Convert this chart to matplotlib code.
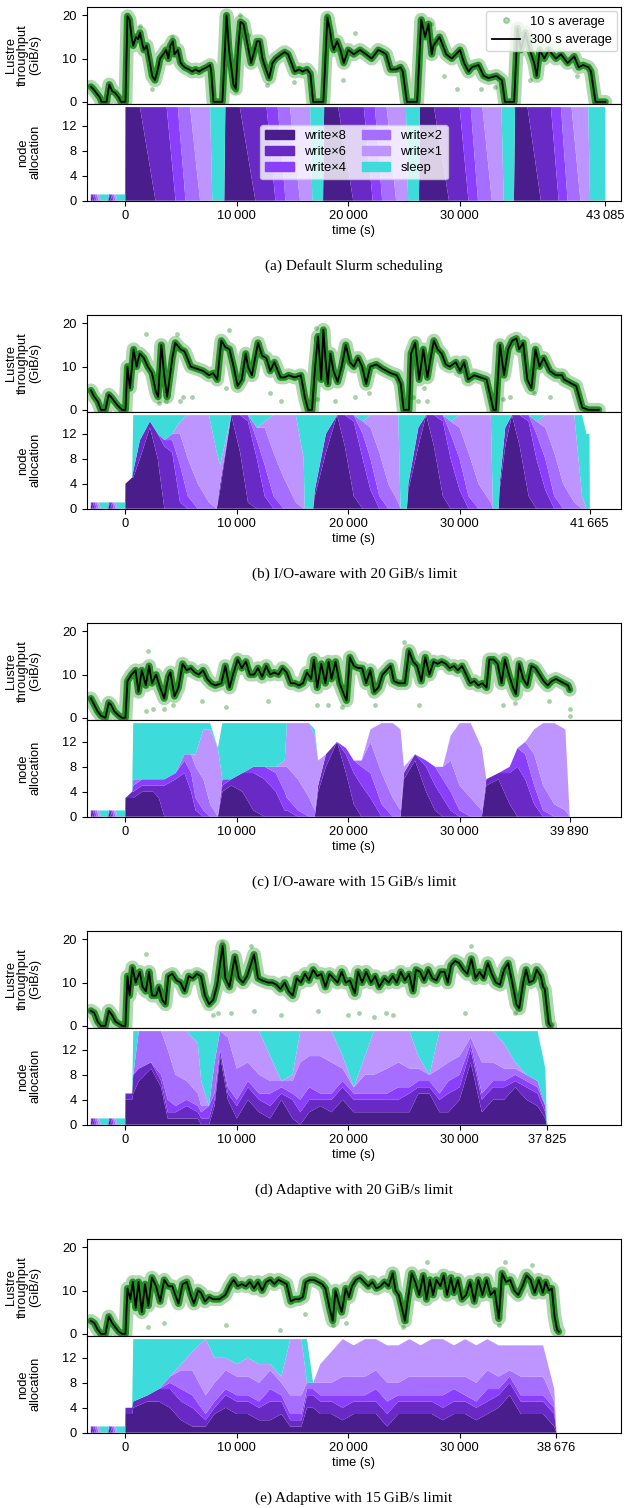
import numpy as np
import matplotlib
matplotlib.use('Agg')
import matplotlib.pyplot as plt
from matplotlib.patches import Patch
from matplotlib.lines import Line2D

plt.rcParams['font.family'] = ['Liberation Sans', 'DejaVu Sans']

# ---------------- data ----------------
captions = ['(a) Default Slurm scheduling',
            '(b) I/O-aware with 20\u2009GiB/s limit',
            '(c) I/O-aware with 15\u2009GiB/s limit',
            '(d) Adaptive with 20\u2009GiB/s limit',
            '(e) Adaptive with 15\u2009GiB/s limit']
end_times = [43085, 41665, 39890, 37825, 38676]
job_types = ['write\u00d78', 'write\u00d76', 'write\u00d74', 'write\u00d72', 'write\u00d71', 'sleep']

# 300 s average throughput, (time s, GiB/s) vertices
tput_a = [(-3100, 3.5), (-2900, 3), (-2600, 2), (-2300, 1), (-2150, 0), (-1700, 0), (-1450, 4), (-1200, 2.5),
          (-900, 2), (-600, 1), (-400, 0), (0, 0), (180, 19.8), (370, 19), (550, 15), (700, 13), (950, 15),
          (1150, 14.5), (1300, 16), (1500, 13.5), (1650, 12), (1900, 13), (2200, 9), (2400, 6), (2650, 5),
          (2950, 8), (3100, 10), (3400, 11), (3650, 12), (3850, 10), (4030, 13), (4250, 14), (4400, 11),
          (4700, 12), (4950, 9), (5300, 8), (5700, 7.5), (6000, 7), (6300, 7.5), (6600, 7), (6900, 7.5),
          (7300, 8), (7600, 8.5), (7700, 7), (7900, 0), (8700, 0), (9080, 20), (9300, 12), (9700, 4),
          (9900, 3), (10100, 12), (10330, 18.5), (10600, 18), (10900, 14), (11280, 9), (11500, 11),
          (11800, 14), (12050, 14), (12300, 10), (12550, 8), (12900, 5.5), (13200, 9), (13500, 10),
          (14000, 11), (14300, 11.5), (14600, 11), (14900, 9), (15200, 7), (15600, 7.5), (15900, 7),
          (16300, 7.5), (16600, 6.5), (16850, 0), (17770, 0), (18130, 19.5), (18400, 16), (18500, 14),
          (18700, 12), (19000, 14), (19300, 12), (19600, 9), (20000, 12), (20500, 11), (21060, 12),
          (21600, 11), (22100, 10), (22700, 12), (23100, 11.5), (23400, 11), (23800, 7.5), (24300, 7.5),
          (24700, 8), (24900, 7), (25270, 0), (26190, 0), (26560, 19), (26900, 15), (27200, 18), (27500, 11),
          (27650, 13), (28200, 15), (28800, 11), (29300, 10), (30040, 12), (30400, 9), (30800, 7),
          (31100, 8), (31700, 8.5), (32160, 6), (32600, 5.5), (33300, 6), (33800, 5), (34070, 0),
          (34900, 0), (35200, 17), (35500, 12), (35900, 16), (36300, 12), (36700, 9), (36920, 6),
          (37200, 12), (37600, 10), (38000, 12), (38650, 10), (39100, 11), (39700, 9), (40290, 10.5),
          (40700, 8), (41100, 8.5), (41570, 8), (41800, 7), (42200, 0), (43085, 0)]
tput_b = [(-3100, 4.5), (-2800, 3), (-2500, 2), (-2200, 0), (-1800, 0), (-1500, 3.5), (-1300, 3), (-1000, 2),
          (-700, 1), (-300, 0), (0, 0), (180, 10), (400, 5), (730, 14), (1000, 10), (1280, 13), (1650, 12),
          (2000, 10), (2380, 8.5), (2750, 4), (2930, 3), (3220, 15), (3480, 8), (3740, 3), (4210, 12),
          (4470, 15.5), (4950, 14), (5310, 13.5), (5860, 10), (6410, 9.5), (6960, 9), (7510, 8), (7880, 8.5),
          (8240, 7), (8610, 16), (8970, 14.5), (9340, 14), (9710, 10), (10070, 5.5), (10440, 7), (10800, 13),
          (11000, 10), (11350, 8), (11900, 15.5), (12270, 12.5), (12640, 12), (13000, 9), (13370, 11),
          (13920, 7.5), (14290, 7.5), (14650, 8), (15200, 7.5), (15750, 8), (16100, 3), (16400, 0),
          (16750, 0), (17030, 10), (17290, 17), (17580, 7), (17770, 18.5), (17950, 12), (18170, 6),
          (18400, 13), (18680, 9), (19050, 6.5), (19410, 10), (19780, 15), (20150, 11), (20510, 10),
          (20880, 12), (21250, 10), (21610, 6), (21980, 10), (22530, 10.5), (23080, 9.5), (23810, 8.5),
          (24360, 8), (24720, 6), (24980, 0), (25460, 0), (25640, 13), (26010, 15.5), (26370, 7),
          (26740, 14), (27110, 7.5), (27400, 12), (27690, 16), (28020, 14), (28390, 13), (28760, 10.5),
          (29120, 10), (29670, 11), (30040, 9), (30400, 11), (30770, 7), (31320, 8), (31870, 7.5),
          (32420, 7), (32780, 3), (33040, 0), (33260, 0), (33630, 15), (33990, 8), (34360, 14),
          (34730, 16), (35100, 16.5), (35350, 14), (35710, 15.5), (36080, 7), (36450, 5), (36810, 14),
          (37180, 10), (37550, 12), (38100, 9), (38650, 8), (39200, 8), (39380, 7), (40110, 6),
          (40470, 5.5), (41020, 0.5), (41570, 0), (42500, 0)]
tput_c = [(-3100, 4.5), (-2800, 3), (-2500, 1.5), (-2200, 0.5), (-1800, 0), (-1500, 3.5), (-1300, 3),
          (-1000, 1.5), (-600, 0.5), (-300, 0), (0, 0), (180, 8.5), (550, 10), (915, 11), (1170, 6),
          (1470, 11), (1830, 7.5), (2120, 12), (2380, 8), (2750, 10), (3110, 7), (3480, 4.5), (3850, 9.5),
          (4030, 10.5), (4400, 5), (4760, 7), (5130, 12.5), (5500, 11), (5860, 11.5), (6230, 10.5),
          (6590, 10), (6960, 11), (7330, 9), (7690, 8), (8060, 7.5), (8610, 8), (8970, 12), (9340, 7),
          (9710, 10.5), (10070, 13.5), (10440, 11.5), (10810, 13), (11170, 10), (11540, 10), (11900, 11.5),
          (12270, 9.5), (12640, 12), (13000, 10), (13370, 10.5), (13740, 10), (14100, 11.5), (14470, 10.5),
          (14840, 8), (15200, 8), (15570, 7.5), (15930, 8), (16300, 10.5), (16670, 9), (16920, 13.5),
          (17220, 7), (17580, 12.5), (17950, 8), (18240, 13), (18500, 9), (18860, 13), (19230, 8),
          (19600, 5.5), (19850, 4), (20150, 14), (20510, 12), (20880, 11.5), (21250, 11.5), (21610, 8),
          (21980, 11), (22340, 6), (22710, 7), (23080, 10), (23440, 11), (23810, 12), (24100, 8.5),
          (24540, 8), (25090, 8), (25460, 15.5), (25820, 13), (26190, 12), (26560, 8.5), (26920, 14),
          (27290, 10), (27660, 13), (28020, 12.5), (28390, 13), (28760, 12.5), (29120, 11.5), (29490, 12),
          (29850, 11), (30220, 12), (30590, 10), (30950, 8), (31320, 8.5), (31680, 7.5), (32050, 8),
          (32420, 7), (32670, 13.5), (33040, 13.5), (33410, 12.5), (33770, 8), (34070, 13.5), (34430, 10),
          (34800, 7), (35060, 5.5), (35350, 12.5), (35710, 9), (36080, 7.5), (36450, 12), (36810, 11.5),
          (37180, 10), (37550, 8.5), (37910, 7.5), (38280, 8.5), (38650, 9), (39010, 8.5), (39380, 8),
          (39740, 7.5), (39890, 6.5)]
tput_d = [(-3100, 3.5), (-2800, 3), (-2500, 1), (-2200, 0), (-1800, 0), (-1500, 3.5), (-1200, 2.5),
          (-900, 1), (-600, 0.5), (-300, 0), (0, 0), (180, 11.5), (370, 7), (620, 13.5), (920, 10),
          (1280, 12.5), (1540, 9), (1830, 8), (2120, 12.5), (2380, 7), (2750, 7), (3000, 9), (3300, 6),
          (3590, 5), (3850, 11.5), (4210, 12), (4580, 10.5), (4950, 10), (5310, 8), (5680, 11.5),
          (6040, 11), (6410, 12), (6780, 11.5), (7140, 7), (7510, 5), (7880, 6), (8240, 9.5), (8720, 18.5),
          (8970, 11), (9340, 9), (9820, 16), (10180, 11), (10550, 10), (10920, 11.5), (11540, 16.5),
          (11900, 11), (12270, 10.5), (12820, 10), (13190, 10), (13550, 9.5), (13920, 8.5), (14290, 10),
          (14650, 8), (15020, 7), (15380, 11), (15750, 10), (16120, 12), (16480, 10.5), (16850, 13),
          (17220, 11.5), (17580, 12), (17950, 9), (18320, 12), (18680, 11), (19050, 10), (19410, 12.5),
          (19780, 10), (20150, 10.5), (20590, 7.5), (20880, 12.5), (21250, 10), (21610, 12.5), (22050, 10),
          (22420, 11.5), (22780, 9), (23260, 11), (23630, 10), (23990, 11.5), (24360, 10), (24720, 12.5),
          (25090, 10.5), (25460, 12), (25820, 8), (26080, 13), (26450, 12.5), (26810, 10.5), (27180, 13),
          (27550, 11), (27910, 10.5), (28280, 12.5), (28650, 12.5), (28940, 10), (29230, 14), (29600, 15),
          (29960, 14.5), (30330, 13), (30700, 12), (31060, 15.5), (31430, 11), (31790, 12.5), (32160, 11),
          (32530, 14.5), (32890, 12), (33260, 10), (33630, 9.5), (33990, 13), (34360, 14.5), (34730, 10),
          (35100, 5), (35350, 4), (35710, 10), (35970, 13), (36260, 10), (36630, 10.5), (36920, 13),
          (37290, 11.5), (37500, 9), (37650, 8.5), (37800, 5), (38000, 0.5), (38150, 0)]
tput_e = [(-3100, 3), (-2800, 2.5), (-2500, 1), (-2200, 0), (-1800, 0), (-1500, 4), (-1200, 2.5),
          (-900, 1.5), (-600, 0.5), (-300, 0), (0, 0), (180, 10.5), (440, 8), (660, 12), (920, 6),
          (1170, 12), (1470, 5), (1760, 11.5), (2050, 6.5), (2380, 13), (2750, 11), (3110, 7.5),
          (3480, 12.5), (3850, 11), (4210, 11), (4470, 9), (4760, 7), (5130, 11.5), (5500, 12), (5860, 9),
          (6150, 7), (6520, 10), (6780, 9.5), (7140, 7.5), (7510, 8.5), (7880, 8), (8420, 8), (8970, 9),
          (9340, 11), (9710, 12.5), (10070, 11), (10440, 11.5), (10810, 11), (11170, 12), (11540, 10.5),
          (11900, 12), (12270, 10), (12640, 12), (13000, 12.5), (13370, 11.5), (13740, 12.5), (14100, 12),
          (14470, 11.5), (14840, 7.5), (15200, 8), (15570, 8), (15930, 8.5), (16190, 12), (16560, 12.5),
          (16920, 12.5), (17290, 12), (17650, 11.5), (17950, 10.5), (18320, 6), (18610, 3), (18860, 10),
          (19120, 7.5), (19410, 5), (19780, 10.5), (20070, 8.5), (20330, 11), (20700, 12.5), (21060, 13),
          (21430, 12), (21800, 11), (22160, 12), (22530, 10.5), (22890, 11), (23260, 12), (23630, 11),
          (23990, 14), (24250, 10), (24540, 9), (24910, 5), (25090, 3), (25350, 8), (25710, 14),
          (26010, 12), (26370, 9), (26740, 13.5), (27030, 8), (27330, 12.5), (27620, 9), (27910, 12.5),
          (28280, 11), (28570, 13.5), (28870, 9), (29230, 13), (29490, 9.5), (29850, 12.5), (30220, 8),
          (30590, 9), (30950, 12), (31320, 7.5), (31680, 12.5), (32050, 9), (32420, 12.5), (32780, 9),
          (33150, 10), (33520, 3.5), (33810, 14), (34170, 12), (34540, 12.5), (34910, 10), (35270, 9),
          (35640, 11), (36010, 13.5), (36370, 12.5), (36740, 9.5), (37110, 12.5), (37470, 9.5),
          (37730, 12), (38020, 10), (38280, 10.5), (38530, 4), (38750, 1), (38900, 0.5)]

# single 10 s samples that stand out of the dense cloud
pts_a = [(1300, 17.5), (2400, 3), (4200, 15), (9600, 3.5), (9900, 2.5), (10300, 20), (11000, 15.5),
         (12700, 4), (15100, 4.5), (18100, 20), (19500, 5), (20600, 16), (27400, 18), (28600, 6),
         (29800, 3), (31900, 3), (33200, 3.5), (36300, 5), (40500, 6)]
pts_b = [(1800, 17.5), (3000, 1.5), (3600, 2), (4600, 17.5), (4900, 2), (5200, 3), (6000, 3), (9000, 5),
         (9300, 18.5), (13000, 4), (14000, 2), (17100, 19), (17200, 2.5), (18800, 2), (20600, 3),
         (21900, 4), (25800, 3), (26300, 2), (26800, 5), (27100, 2), (33900, 2.5), (34500, 3),
         (36700, 4), (38100, 3)]
pts_c = [(1800, 1.5), (2000, 15.5), (2500, 2), (3500, 2), (4300, 3), (6900, 4), (9000, 2.5), (12800, 4),
         (17200, 3), (18200, 3), (19400, 2.5), (22400, 3), (25000, 17.5), (26400, 3), (33900, 3),
         (35000, 3.5), (38000, 4), (39900, 0.5), (39950, 2)]
pts_d = [(1800, 16.5), (7900, 2.5), (8300, 3), (8700, 19.5), (9500, 3), (11300, 18.5), (11500, 3.5),
         (14000, 2.5), (17300, 3.5), (20000, 2.5), (21000, 3), (22300, 2), (23400, 3), (24000, 2.5),
         (30500, 3), (31000, 18.5), (35000, 3), (38300, 0.5)]
pts_e = [(2000, 1.5), (3500, 2.5), (9000, 2), (13900, 1), (16100, 4.5), (18600, 2), (19800, 2.5),
         (24900, 1.5), (25200, 3), (27100, 16.5), (33500, 2), (34100, 16.5), (36500, 16), (38800, 1)]

# node allocation rows: (time, write x8, x6, x4, x2, x1, sleep)
alloc_pre = [(-3110, 1, 0, 0, 0, 0, 0), (-2930, 0, 1, 0, 0, 0, 0), (-2750, 0, 0, 1, 0, 0, 0),
             (-2570, 0, 0, 0, 1, 0, 0), (-2380, 0, 0, 0, 0, 1, 0), (-2200, 0, 0, 0, 0, 0, 1),
             (-1550, 0, 0, 0, 0, 0, 1), (-1480, 1, 0, 0, 0, 0, 0), (-1330, 0, 1, 0, 0, 0, 0),
             (-1180, 0, 0, 1, 0, 0, 0), (-1030, 0, 0, 0, 1, 0, 0), (-880, 0, 0, 0, 0, 1, 0),
             (-730, 0, 0, 0, 0, 0, 1), (-20, 0, 0, 0, 0, 0, 1)]
alloc_a = [(0, 15, 0, 0, 0, 0, 0), (1300, 15, 0, 0, 0, 0, 0), (2700, 0, 15, 0, 0, 0, 0), (3700, 0, 15, 0, 0, 0, 0),
           (4500, 0, 0, 15, 0, 0, 0), (4700, 0, 0, 15, 0, 0, 0), (5400, 0, 0, 0, 15, 0, 0), (5800, 0, 0, 0, 15, 0, 0),
           (6700, 0, 0, 0, 0, 15, 0), (7600, 0, 0, 0, 0, 15, 0), (7800, 0, 0, 0, 0, 0, 15), (8870, 0, 0, 0, 0, 0, 15),
           (8970, 15, 0, 0, 0, 0, 0), (10270, 15, 0, 0, 0, 0, 0), (11670, 0, 15, 0, 0, 0, 0), (12670, 0, 15, 0, 0, 0, 0),
           (13470, 0, 0, 15, 0, 0, 0), (13670, 0, 0, 15, 0, 0, 0), (14370, 0, 0, 0, 15, 0, 0), (14770, 0, 0, 0, 15, 0, 0),
           (15670, 0, 0, 0, 0, 15, 0), (16580, 0, 0, 0, 0, 15, 0), (16780, 0, 0, 0, 0, 0, 15), (17740, 0, 0, 0, 0, 0, 15),
           (17840, 15, 0, 0, 0, 0, 0), (19100, 15, 0, 0, 0, 0, 0), (20450, 0, 15, 0, 0, 0, 0), (21400, 0, 15, 0, 0, 0, 0),
           (22200, 0, 0, 15, 0, 0, 0), (22400, 0, 0, 15, 0, 0, 0), (23050, 0, 0, 0, 15, 0, 0), (23450, 0, 0, 0, 15, 0, 0),
           (24300, 0, 0, 0, 0, 15, 0), (25180, 0, 0, 0, 0, 15, 0), (25380, 0, 0, 0, 0, 0, 15), (26350, 0, 0, 0, 0, 0, 15),
           (26450, 15, 0, 0, 0, 0, 0), (27700, 15, 0, 0, 0, 0, 0), (29050, 0, 15, 0, 0, 0, 0), (30000, 0, 15, 0, 0, 0, 0),
           (30800, 0, 0, 15, 0, 0, 0), (31000, 0, 0, 15, 0, 0, 0), (31650, 0, 0, 0, 15, 0, 0), (32050, 0, 0, 0, 15, 0, 0),
           (32900, 0, 0, 0, 0, 15, 0), (33760, 0, 0, 0, 0, 15, 0), (33960, 0, 0, 0, 0, 0, 15), (34880, 0, 0, 0, 0, 0, 15),
           (34980, 15, 0, 0, 0, 0, 0), (36100, 15, 0, 0, 0, 0, 0), (37300, 0, 15, 0, 0, 0, 0), (38200, 0, 15, 0, 0, 0, 0),
           (38900, 0, 0, 15, 0, 0, 0), (39100, 0, 0, 15, 0, 0, 0), (39700, 0, 0, 0, 15, 0, 0), (40050, 0, 0, 0, 15, 0, 0),
           (40850, 0, 0, 0, 0, 15, 0), (41550, 0, 0, 0, 0, 15, 0), (41720, 0, 0, 0, 0, 0, 15), (43085, 0, 0, 0, 0, 0, 15),
           (43100, 0, 0, 0, 0, 0, 0)]
alloc_b = [(0, 4, 0, 0, 0, 0, 0), (600, 5, 0, 0, 0, 0, 0), (700, 5, 1, 0, 0, 0, 9), (1300, 8, 3, 0, 0, 0, 4),
           (2200, 13, 1, 0, 0, 0, 1), (2900, 8, 4, 0, 0, 0, 3), (3500, 0, 10, 1, 0, 0, 4), (4200, 0, 9, 2, 1, 0, 3),
           (4900, 0, 1, 6, 5, 2, 1), (5600, 0, 0, 2, 6, 7, 0), (6500, 0, 0, 0, 4, 11, 0), (7500, 0, 0, 0, 1, 14, 0),
           (8200, 0, 0, 0, 0, 9, 6), (8500, 3, 1, 0, 0, 3, 8), (9500, 15, 0, 0, 0, 0, 0), (10300, 9, 6, 0, 0, 0, 0),
           (11000, 1, 13, 1, 0, 0, 0), (11800, 0, 8, 3, 2, 0, 2), (12500, 0, 2, 5, 6, 1, 1), (13300, 0, 0, 2, 7, 6, 0),
           (14200, 0, 0, 0, 5, 10, 0), (15300, 0, 0, 0, 1, 14, 0), (16000, 0, 0, 0, 0, 8, 7), (16100, 0, 0, 0, 0, 0, 15),
           (16850, 0, 0, 0, 0, 0, 15), (17000, 2, 1, 0, 0, 0, 12), (18000, 9, 3, 0, 0, 0, 3), (19000, 15, 0, 0, 0, 0, 0),
           (19700, 10, 5, 0, 0, 0, 0), (20500, 2, 12, 1, 0, 0, 0), (21300, 0, 8, 4, 2, 0, 1), (22000, 0, 3, 5, 5, 2, 0),
           (22800, 0, 0, 2, 7, 6, 0), (23600, 0, 0, 0, 4, 11, 0), (24500, 0, 0, 0, 1, 14, 0), (24700, 0, 0, 0, 0, 0, 15),
           (25270, 0, 0, 0, 0, 0, 15), (25400, 3, 1, 0, 0, 0, 11), (26300, 10, 3, 0, 0, 0, 2), (27000, 15, 0, 0, 0, 0, 0),
           (27700, 10, 5, 0, 0, 0, 0), (28500, 2, 12, 1, 0, 0, 0), (29200, 0, 8, 4, 2, 0, 1), (30000, 0, 3, 5, 5, 2, 0),
           (30800, 0, 0, 2, 7, 6, 0), (31700, 0, 0, 0, 4, 11, 0), (32800, 0, 0, 0, 1, 14, 0), (33000, 0, 0, 0, 0, 0, 15),
           (33500, 0, 0, 0, 0, 0, 15), (33600, 3, 1, 0, 0, 0, 11), (34100, 10, 3, 0, 0, 0, 2), (34700, 15, 0, 0, 0, 0, 0),
           (35400, 10, 5, 0, 0, 0, 0), (36200, 2, 12, 1, 0, 0, 0), (36900, 0, 8, 4, 2, 0, 1), (37700, 0, 3, 5, 5, 2, 0),
           (38500, 0, 0, 2, 7, 6, 0), (39300, 0, 0, 0, 4, 11, 0), (40300, 0, 0, 0, 1, 14, 0), (41000, 0, 0, 0, 0, 2, 13),
           (41400, 0, 0, 0, 0, 0, 12), (41665, 0, 0, 0, 0, 0, 12), (41700, 0, 0, 0, 0, 0, 0)]
alloc_c = [(0, 3, 0, 0, 0, 0, 0), (600, 3, 1, 0, 0, 0, 0), (700, 3, 1, 1, 1, 0, 9), (1500, 4, 1, 1, 0, 0, 9),
           (2500, 4, 1, 1, 0, 0, 9), (3000, 3, 2, 1, 0, 0, 9), (3500, 0, 5, 1, 0, 0, 9), (4500, 0, 6, 1, 0, 0, 8),
           (5300, 0, 7, 2, 1, 0, 5), (5900, 0, 4, 3, 3, 0, 5), (6300, 0, 1, 2, 5, 2, 5), (7000, 0, 0, 1, 5, 8, 1),
           (7600, 0, 0, 0, 2, 12, 1), (8300, 0, 0, 0, 0, 11, 0), (8700, 4, 1, 1, 0, 0, 9), (9500, 5, 1, 0, 0, 0, 9),
           (10500, 4, 3, 0, 0, 0, 8), (11500, 1, 6, 1, 0, 0, 7), (12500, 0, 6, 2, 0, 0, 7), (13500, 0, 4, 3, 1, 0, 7),
           (14300, 0, 1, 3, 4, 1, 6), (14500, 0, 1, 2, 5, 7, 0), (15500, 0, 0, 1, 5, 9, 0), (16500, 0, 0, 0, 3, 12, 0),
           (17000, 0, 0, 0, 1, 12, 1), (17300, 4, 1, 0, 0, 4, 0), (18000, 8, 2, 0, 0, 0, 0), (19000, 12, 0, 0, 0, 0, 0),
           (19800, 7, 3, 1, 0, 0, 0), (20500, 2, 5, 2, 0, 0, 0), (21200, 0, 5, 3, 1, 0, 0), (22000, 0, 3, 4, 5, 2, 0),
           (23000, 0, 0, 2, 5, 8, 0), (24000, 0, 0, 0, 3, 12, 0), (24700, 0, 0, 0, 1, 13, 0), (25000, 6, 1, 0, 0, 1, 0),
           (26000, 9, 1, 0, 0, 0, 0), (27000, 4, 4, 1, 0, 0, 0), (27800, 1, 4, 3, 0, 0, 0), (28500, 0, 3, 3, 2, 0, 0),
           (29200, 0, 1, 3, 5, 4, 0), (30000, 0, 0, 1, 4, 10, 0), (31000, 0, 0, 0, 3, 12, 0), (32000, 0, 0, 0, 1, 10, 0),
           (32400, 5, 1, 0, 0, 0, 0), (33500, 6, 1, 0, 0, 0, 0), (34500, 2, 5, 1, 0, 0, 0), (35200, 0, 8, 3, 0, 0, 0),
           (35900, 0, 6, 4, 2, 0, 0), (36700, 0, 2, 3, 5, 4, 0), (37500, 0, 0, 1, 4, 10, 0), (38500, 0, 0, 0, 2, 13, 0),
           (39500, 0, 0, 0, 1, 13, 0), (39890, 0, 0, 0, 0, 0, 0)]
alloc_d = [(0, 4, 1, 0, 0, 0, 0), (600, 4, 1, 0, 0, 0, 0), (700, 5, 3, 0, 0, 0, 7), (1200, 7, 2, 0, 6, 0, 0),
           (2300, 9, 1, 0, 5, 0, 0), (3200, 6, 1, 1, 7, 0, 0), (3800, 1, 1, 2, 8, 3, 0), (4500, 1, 1, 1, 5, 7, 0),
           (5500, 1, 2, 1, 3, 8, 0), (6500, 1, 1, 1, 2, 8, 2), (6800, 0, 1, 1, 1, 4, 8), (7500, 0, 1, 2, 0, 0, 12),
           (8000, 3, 1, 1, 5, 0, 5), (8500, 11, 1, 0, 3, 0, 0), (9200, 4, 1, 1, 8, 1, 0), (10000, 1, 2, 1, 5, 6, 0),
           (11000, 4, 2, 1, 3, 5, 0), (12000, 2, 2, 1, 3, 7, 0), (13000, 1, 2, 2, 2, 4, 4), (14000, 4, 1, 1, 1, 0, 8),
           (15000, 1, 3, 1, 2, 1, 7), (15700, 0, 2, 2, 6, 5, 0), (16500, 2, 2, 2, 5, 4, 0), (17500, 3, 1, 1, 6, 4, 0),
           (18500, 2, 2, 1, 5, 5, 0), (19500, 4, 2, 1, 2, 2, 4), (20500, 2, 2, 1, 1, 0, 9), (21500, 2, 2, 1, 3, 3, 4),
           (22300, 2, 2, 1, 3, 7, 0), (23500, 2, 2, 1, 4, 6, 0), (24500, 2, 2, 2, 4, 5, 0), (25500, 2, 3, 1, 3, 6, 0),
           (26300, 5, 1, 1, 2, 2, 4), (27300, 5, 1, 1, 1, 0, 7), (28200, 2, 2, 1, 4, 6, 0), (29000, 2, 3, 2, 3, 5, 0),
           (30000, 4, 2, 2, 3, 4, 0), (31000, 10, 2, 1, 1, 1, 0), (32000, 2, 2, 1, 5, 5, 0), (33000, 4, 2, 1, 3, 5, 0),
           (34000, 4, 2, 1, 2, 4, 2), (35000, 6, 1, 1, 1, 1, 5), (36000, 4, 2, 1, 1, 0, 7), (37000, 3, 2, 1, 1, 0, 8),
           (37700, 1, 1, 1, 0, 0, 6), (37825, 0, 0, 0, 0, 0, 1), (37900, 0, 0, 0, 0, 0, 0)]
alloc_e = [(0, 3, 1, 0, 0, 0, 0), (600, 3, 1, 0, 0, 0, 0), (700, 4, 1, 0, 0, 0, 10), (2000, 5, 1, 0, 0, 0, 9),
           (3000, 5, 2, 0, 0, 0, 8), (4000, 4, 3, 1, 1, 0, 6), (5000, 2, 3, 2, 3, 1, 4), (6000, 1, 3, 2, 4, 3, 2),
           (7200, 1, 1, 1, 3, 9, 0), (8000, 3, 1, 1, 3, 4, 3), (9000, 4, 2, 1, 3, 2, 3), (10000, 3, 2, 1, 3, 2, 4),
           (11000, 3, 2, 1, 3, 3, 3), (12000, 2, 2, 1, 3, 3, 4), (13000, 2, 3, 2, 3, 1, 4), (14000, 3, 2, 1, 2, 1, 6),
           (14800, 1, 1, 1, 3, 9, 0), (15800, 1, 1, 1, 3, 9, 0), (16300, 4, 2, 1, 1, 0, 7), (16850, 4, 2, 1, 1, 0, 0),
           (17500, 3, 2, 1, 2, 3, 0), (18500, 3, 2, 1, 2, 5, 0), (19500, 2, 2, 2, 3, 6, 0), (20500, 3, 2, 1, 3, 5, 0),
           (21500, 3, 2, 1, 3, 6, 0), (22500, 3, 2, 2, 3, 5, 0), (23500, 1, 2, 2, 3, 6, 0), (24500, 3, 2, 1, 2, 6, 0),
           (25500, 3, 2, 1, 3, 6, 0), (26500, 3, 2, 1, 3, 5, 0), (27500, 3, 2, 1, 3, 6, 0), (28500, 2, 2, 2, 3, 6, 0),
           (29500, 3, 2, 2, 2, 5, 0), (30500, 3, 2, 1, 3, 6, 0), (31500, 2, 2, 1, 3, 6, 0), (32500, 3, 2, 2, 3, 5, 0),
           (33500, 4, 2, 1, 2, 5, 0), (34500, 6, 2, 1, 1, 4, 0), (35500, 3, 2, 1, 3, 5, 0), (36500, 3, 2, 1, 3, 5, 0),
           (37500, 3, 2, 1, 3, 5, 0), (38500, 1, 2, 1, 1, 2, 0), (38700, 0, 0, 0, 0, 0, 0)]

tputs = [tput_a, tput_b, tput_c, tput_d, tput_e]
points = [pts_a, pts_b, pts_c, pts_d, pts_e]
allocs = [alloc_a, alloc_b, alloc_c, alloc_d, alloc_e]

# ---------------- style / layout ----------------
colors = ['#491d8b', '#6929c4', '#8a3ffc', '#a56eff', '#be95ff', '#3ddbd9']
W, H = 635, 1508
left, right = 86.7, 621.3
step = 308
xlim = (-3480, 44520)
fs = 9.3


def fmt(v):
    return f'{v:,}'.replace(',', '\u2009')


fig = plt.figure(figsize=(W / 100, H / 100), dpi=100)

for k in range(5):
    off = step * k
    top_y0, mid_y, bot_y = 6.7 + off, 104 + off, 200.7 + off
    ax1 = fig.add_axes([left / W, 1 - mid_y / H, (right - left) / W, (mid_y - top_y0) / H])
    ax2 = fig.add_axes([left / W, 1 - bot_y / H, (right - left) / W, (bot_y - mid_y) / H], sharex=ax1)

    # throughput: the dense 10 s cloud around the 300 s curve
    tp = np.array(tputs[k], dtype=float)
    ax1.plot(tp[:, 0], tp[:, 1], color='green', lw=10, alpha=0.3, solid_capstyle='round', zorder=1)
    ax1.plot(tp[:, 0], tp[:, 1], color='green', lw=5, alpha=0.8, solid_capstyle='round', zorder=1)
    pt = np.array(points[k], dtype=float)
    ax1.scatter(pt[:, 0], pt[:, 1], s=12, color='green', alpha=0.35, lw=0, zorder=1)
    ax1.plot(tp[:, 0], tp[:, 1], color='black', lw=1.3, zorder=2)
    ax1.set_ylim(-0.5, 22)
    ax1.set_yticks([0, 10, 20])
    ax1.tick_params(labelbottom=False, labelsize=fs)

    # node allocation
    rows = np.array(alloc_pre + allocs[k], dtype=float)
    ax2.stackplot(rows[:, 0], *[rows[:, j + 1] for j in range(6)], colors=colors, lw=0)
    ax2.set_ylim(0, 15.5)
    ax2.set_yticks([0, 4, 8, 12])
    ax2.set_xlim(*xlim)
    ticks = [0, 10000, 20000, 30000, end_times[k]]
    ax2.set_xticks(ticks)
    ax2.set_xticklabels([fmt(v) for v in ticks])
    ax2.tick_params(labelsize=fs)
    ax2.set_xlabel('time (s)', fontsize=fs, labelpad=2)

    ax1.set_ylabel('Lustre\nthroughput\n(GiB/s)', fontsize=fs, linespacing=1.0)
    ax2.set_ylabel('node\nallocation', fontsize=fs, linespacing=1.0)
    ax1.yaxis.set_label_coords(-0.085, 0.5)
    ax2.yaxis.set_label_coords(-0.085, 0.5)

    fig.text(0.5 * (left + right) / W, 1 - (266 + off) / H, captions[k], ha='center', va='center',
             fontsize=11, family='Liberation Serif')

    if k == 0:
        h1 = [Line2D([], [], ls='none', marker='o', ms=4, color='green', alpha=0.3),
              Line2D([], [], color='black', lw=1.3)]
        ax1.legend(h1, ['10 s average', '300 s average'], loc='upper right', fontsize=fs,
                   borderaxespad=0.3, handlelength=2.2)
        h2 = [Patch(color=c) for c in colors]
        ax2.legend(h2, job_types, ncol=2, loc='center', fontsize=fs, handlelength=2.2,
                   columnspacing=1.2, labelspacing=0.3)

fig.savefig('out.png', dpi=100)
